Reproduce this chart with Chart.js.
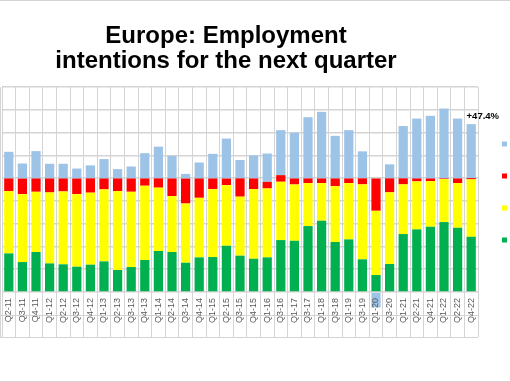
<!DOCTYPE html>
<html>
<head>
<meta charset="utf-8">
<script src="https://cdn.jsdelivr.net/npm/chart.js@4.4.1/dist/chart.umd.min.js"></script>
<style>
  html, body { margin: 0; padding: 0; background: #fff; overflow: hidden; width: 510px; height: 382px; }
  #wrap { position: relative; width: 510px; height: 382px; overflow: hidden; }
  #title { position: absolute; left: 0; top: 23px; width: 452px; text-align: center;
           font: bold 24px "Liberation Sans", Arial, sans-serif; line-height: 24.6px; color: #000; z-index: 2; }
  .hline { position: absolute; height: 1px; background: #d4d4d4; z-index: 0; }
  .vline { position: absolute; width: 1px; background: #d4d4d4; z-index: 0; }
  canvas { position: absolute; left: 0; top: 0; z-index: 1; }
</style>
</head>
<body>
<div id="wrap">
  <div class="hline" style="left:0;top:0;width:510px;"></div>
  <div class="hline" style="left:0;top:315px;width:478px;"></div>
  <div class="hline" style="left:0;top:337px;width:478px;"></div>
  <div class="hline" style="left:0;top:381px;width:510px;"></div>
  <div class="vline" style="left:0;top:87px;height:250px;"></div>
  <div id="title">Europe: Employment<br>intentions for the next quarter</div>
  <canvas id="myChart" width="600" height="382"></canvas>
</div>
<script>
// quarters as labelled under the bars
const quarters = ['Q2-11', 'Q3-11', 'Q4-11', 'Q1-12', 'Q2-12', 'Q3-12', 'Q4-12', 'Q1-13', 'Q2-13', 'Q3-13',
  'Q4-13', 'Q1-14', 'Q2-14', 'Q3-14', 'Q4-14', 'Q1-15', 'Q2-15', 'Q3-15', 'Q4-15', 'Q1-16',
  'Q3-16', 'Q1-17', 'Q3-17', 'Q1-18', 'Q3-18', 'Q1-19', 'Q3-19', 'Q1-20', 'Q3-20', 'Q1-21',
  'Q2-21', 'Q4-21', 'Q1-22', 'Q2-22', 'Q4-22'];

// % of employers
const increase = [33.9, 26.3, 35.1, 25.1, 24.3, 22.2, 24.0, 26.9, 19.3, 21.9,
  28.1, 36.0, 35.1, 25.7, 30.4, 30.7, 40.6, 31.9, 29.2, 30.4,
  45.6, 45.0, 57.9, 62.6, 43.9, 46.2, 28.7, 14.9, 24.6, 50.9,
  55.0, 57.3, 61.4, 56.4, 48.5];
const noChange = [54.7, 59.6, 52.9, 62.3, 64.0, 63.7, 63.2, 63.2, 69.3, 66.1,
  65.2, 55.6, 49.1, 52.0, 52.3, 59.6, 53.2, 51.8, 61.1, 60.5,
  51.2, 49.4, 37.7, 33.0, 49.1, 49.4, 65.8, 56.4, 62.9, 43.6,
  42.1, 40.1, 37.7, 39.2, 50.4];
const decrease = [11.1, 13.7, 11.7, 12.3, 11.4, 13.7, 12.6, 9.6, 11.1, 11.7,
  6.4, 8.2, 15.5, 21.9, 17.0, 9.4, 5.8, 16.1, 9.4, 5.8,
  5.8, 5.3, 4.1, 4.1, 6.7, 4.1, 5.3, 28.4, 12.3, 5.3,
  2.6, 2.3, 0.6, 4.1, 1.1];
const netBalance = [23.4, 13.2, 24.0, 12.9, 12.9, 8.8, 11.4, 17.0, 8.2, 10.5,
  22.2, 27.8, 19.9, 4.1, 14.0, 21.6, 35.1, 16.1, 20.2, 24.9,
  39.5, 40.1, 53.8, 58.5, 37.4, 42.4, 23.7, -13.5, 12.3, 45.9,
  52.6, 55.0, 61.4, 52.6, 47.4];

const gridColor = '#d4d4d4';

// label above the latest net balance bar
const lastValueLabel = {
  id: 'lastValueLabel',
  afterDatasetsDraw(chart) {
    const meta = chart.getDatasetMeta(3);
    const bar = meta.data[meta.data.length - 1];
    const v = netBalance[netBalance.length - 1];
    const ctx = chart.ctx;
    ctx.save();
    ctx.font = 'bold 9.5px "Liberation Sans", Arial, sans-serif';
    ctx.fillStyle = '#000';
    ctx.textAlign = 'left';
    ctx.textBaseline = 'alphabetic';
    ctx.fillText('+' + v.toFixed(1) + '%', bar.x - bar.width / 2, bar.y - 5);
    ctx.restore();
  }
};

const ctx = document.getElementById('myChart');

new Chart(ctx, {
  type: 'bar',
  data: {
    labels: quarters,
    datasets: [
      { label: 'Increase', data: increase, backgroundColor: '#00b050' },
      { label: 'No change', data: noChange, backgroundColor: '#ffff00' },
      { label: 'Decrease', data: decrease, backgroundColor: '#ff0000' },
      { label: 'Net employment balance', data: netBalance, backgroundColor: '#9dc3e6', clip: false }
    ]
  },
  options: {
    responsive: false,
    animation: false,
    devicePixelRatio: 1,
    barPercentage: 0.68,
    categoryPercentage: 1,
    layout: { padding: { left: 2, right: 22, top: 87, bottom: 45 } },
    scales: {
      x: {
        stacked: true,
        grid: { color: gridColor, lineWidth: 1, tickLength: 45, drawTicks: true },
        border: { display: false },
        ticks: {
          z: 1,
          minRotation: 90,
          maxRotation: 90,
          autoSkip: false,
          padding: -39,
          color: '#595959',
          font: { family: '"Liberation Sans", Arial, sans-serif', size: 9 }
        },
        afterFit(scale) { scale.height = 45; }
      },
      y: {
        stacked: true,
        min: 0,
        max: 180,
        ticks: { display: false, stepSize: 20 },
        grid: { color: gridColor, lineWidth: 1.5, drawTicks: false },
        border: { display: false },
        afterFit(scale) { scale.width = 0; }
      }
    },
    plugins: {
      legend: {
        position: 'right',
        align: 'start',
        reverse: true,
        maxWidth: 100,
        title: { display: true, text: ' ', font: { size: 10 }, padding: { top: 0, bottom: 17 } },
        labels: {
          boxWidth: 5,
          boxHeight: 5,
          padding: 24,
          color: '#000',
          font: { family: '"Liberation Sans", Arial, sans-serif', size: 8 }
        }
      },
      tooltip: { enabled: false }
    }
  },
  plugins: [lastValueLabel]
});
</script>
</body>
</html>
